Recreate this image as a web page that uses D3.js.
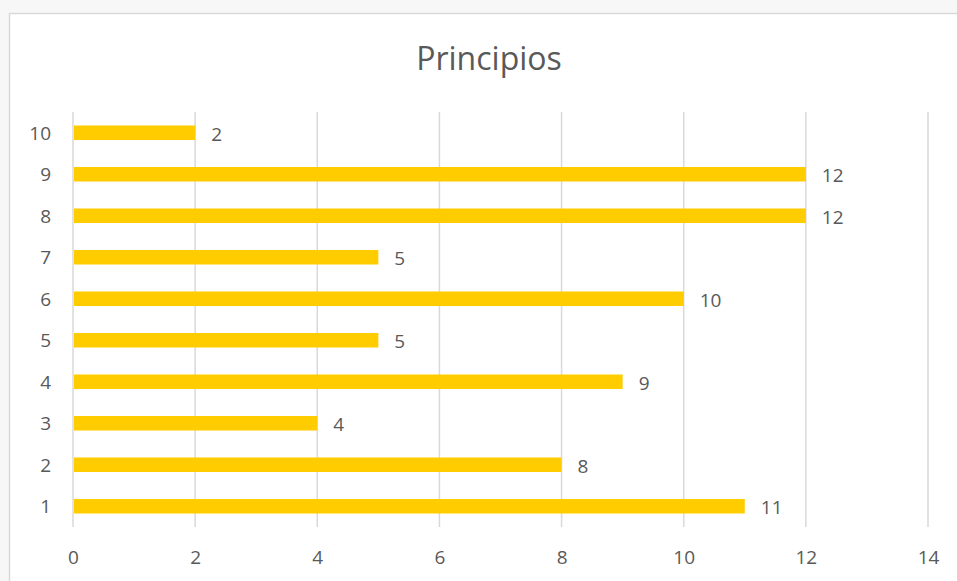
<!DOCTYPE html>
<html><head><meta charset="utf-8">
<script src="https://cdn.jsdelivr.net/npm/d3@7"></script>
<style>
html,body{margin:0;padding:0;background:#f7f7f7;}
svg{display:block;}
text{font-family:"Open Sans","Noto Sans",sans-serif;fill:#595959;}
</style></head>
<body>
<script>
const categories = ["1","2","3","4","5","6","7","8","9","10"];
const values = [11, 8, 4, 9, 5, 10, 5, 12, 12, 2];
const xTicks = [0, 2, 4, 6, 8, 10, 12, 14];
const title = "Principios";

const W = 957, H = 581;
const svg = d3.select("body").append("svg").attr("width", W).attr("height", H);

svg.append("rect").attr("x", 9.5).attr("y", 13.5).attr("width", 960).attr("height", 600)
  .attr("fill", "#ffffff").attr("stroke", "#d9d9d9").attr("stroke-width", 1.5);

const x = d3.scaleLinear().domain([0, 14]).range([73, 928]);
const y = d3.scaleBand().domain(categories.slice().reverse()).range([112, 527]).paddingInner(0.65).paddingOuter(0.325);

svg.append("text").attr("x", 489).attr("y", 70).attr("text-anchor", "middle")
  .attr("font-size", 32).text(title);

// gridlines
svg.append("g").selectAll("line").data(xTicks).join("line")
  .attr("x1", d => x(d)).attr("x2", d => x(d)).attr("y1", 112).attr("y2", 527)
  .attr("stroke", "#d9d9d9").attr("stroke-width", 1.5);

// bars
svg.append("g").selectAll("rect").data(values).join("rect")
  .attr("x", x(0) + 1).attr("y", (d, i) => y(categories[i]))
  .attr("width", d => x(d) - x(0) - 1).attr("height", y.bandwidth())
  .attr("fill", "#ffcc00");

// value labels
svg.append("g").selectAll("text").data(values).join("text")
  .attr("x", d => x(d) + 16).attr("y", (d, i) => y(categories[i]) + y.bandwidth() / 2 + 1)
  .attr("dy", "0.36em").attr("font-size", 19).text(d => d);

// x axis labels
const xAxis = d3.axisBottom(x).tickValues(xTicks).tickSize(0).tickPadding(0);
const gx = svg.append("g").attr("transform", "translate(0,550)").call(xAxis);
gx.select(".domain").remove();
gx.selectAll("text").attr("font-size", 19).attr("fill", "#595959").style("font-family", '"Open Sans","Noto Sans",sans-serif').attr("dy", "0.71em");

// y axis labels
const yAxis = d3.axisLeft(y).tickSize(0).tickPadding(0);
const gy = svg.append("g").attr("transform", "translate(51,1)").call(yAxis);
gy.select(".domain").remove();
gy.selectAll("text").attr("font-size", 19).attr("fill", "#595959").style("font-family", '"Open Sans","Noto Sans",sans-serif');
</script>
</body></html>
